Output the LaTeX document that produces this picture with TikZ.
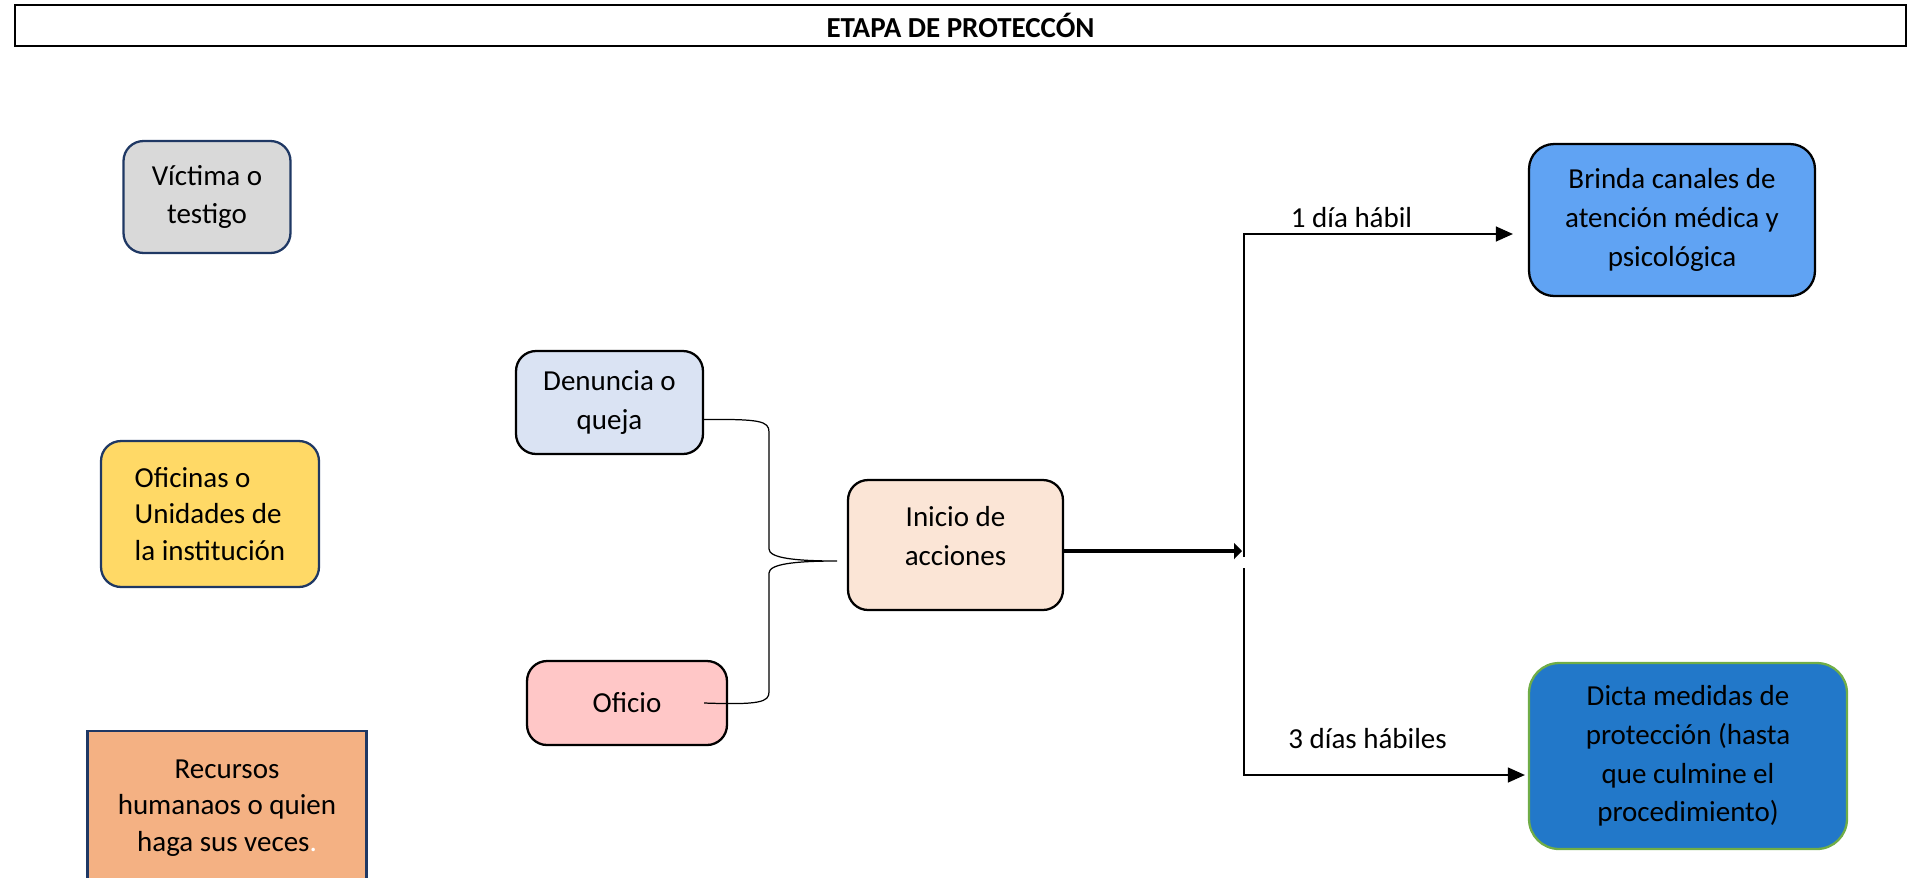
\documentclass[tikz,border=0pt]{standalone}
\usepackage{fontspec}
\setmainfont{Carlito}
\usepackage{xcolor}
\usetikzlibrary{positioning,calc,arrows.meta}

\definecolor{navyline}{HTML}{1F3864}
\definecolor{greyfill}{HTML}{D9D9D9}
\definecolor{goldfill}{HTML}{FFD966}
\definecolor{peachfill}{HTML}{F4B183}
\definecolor{paleblue}{HTML}{DAE3F3}
\definecolor{palepink}{HTML}{FFC7C7}
\definecolor{palepeach}{HTML}{FBE5D6}
\definecolor{skyfill}{HTML}{60A3F3}
\definecolor{deepblue}{HTML}{2278C9}
\definecolor{leafgreen}{HTML}{70AD47}

\begin{document}
\begin{tikzpicture}[x=0.02cm, y=-0.02cm, font=\fontsize{16.5}{22}\selectfont]
    \tikzstyle{box} = [rectangle, draw=black, line width=1.3pt, align=center, rounded corners=0.4cm]
    \tikzstyle{actor} = [box, draw=navyline]
    \tikzstyle{line} = [draw, line width=0.7pt, -{Triangle[length=0.34cm,width=0.3cm]}]
    \tikzstyle{bold line} = [draw, line width=2.8pt, -{Triangle[length=0.16cm,width=0.32cm]}]
    \tikzstyle{brace} = [draw, line width=0.7pt]

    \useasboundingbox (0,0) rectangle (1910,877);

    % header bar
    \node [draw, line width=1.1pt, minimum width=37.82cm, minimum height=0.82cm, font=\fontsize{16.5}{22}\selectfont\bfseries] (title) at (960.5,25.5) {ETAPA DE PROTECCÓN};

    % who takes part
    \node [actor, fill=greyfill, minimum width=3.34cm, minimum height=2.24cm] (victima) at (207,197) {Víctima o\\testigo};
    \node [actor, fill=goldfill, align=left, minimum width=4.36cm, minimum height=2.92cm, font=\fontsize{16.5}{21}\selectfont] (oficinas) at (210,514) {Oficinas o\\Unidades de\\la institución};
    \node [actor, fill=peachfill, sharp corners, anchor=north, minimum width=5.58cm, minimum height=3.08cm, font=\fontsize{16.5}{21}\selectfont] (recursos) at (227,730) {Recursos\\humanaos o quien\\haga sus veces\textcolor{white}{.}};

    % how it starts
    \node [box, fill=paleblue, minimum width=3.74cm, minimum height=2.06cm] (denuncia) at (609.5,402.5) {Denuncia o\\queja};
    \node [box, fill=palepink, minimum width=4.0cm, minimum height=1.68cm] (oficio) at (627,703) {Oficio};
    \node [box, fill=palepeach, minimum width=4.3cm, minimum height=2.6cm, text depth=0.36cm] (inicio) at (955.5,545) {Inicio de\\acciones};

    % what follows
    \node [box, fill=skyfill, rounded corners=0.5cm, minimum width=5.72cm, minimum height=3.04cm] (brinda) at (1672,220) {Brinda canales de\\atención médica y\\psicológica};
    \node [box, draw=leafgreen, fill=deepblue, rounded corners=0.6cm, minimum width=6.36cm, minimum height=3.72cm] (dicta) at (1688,756) {Dicta medidas de\\protección (hasta\\que culmine el\\procedimiento)};

    \coordinate (fork) at (1242,551);
    \coordinate (forkup) at (1244,557);
    \coordinate (forkdown) at (1244,568);

    % curly brace joining both ways in
    \draw [brace] ([yshift=-0.34cm]denuncia.east) .. controls (760,419) and (769,421) .. (769,432) -- (769,549)
        .. controls (769,558) and (795,561) .. (837,561)
        .. controls (795,561) and (769,564) .. (769,573) -- (769,692)
        .. controls (769,702) and (760,705) .. ([xshift=-0.48cm]oficio.east);

    \draw [bold line] (inicio.east |- fork) -- (fork);
    \draw [line] (forkup) |- node[pos=0.7, above=0pt] {1 día hábil} ([xshift=-0.3cm, yshift=-0.28cm]brinda.west);
    \draw [line] (forkdown) |- node[pos=0.72, above=0.4cm] {3 días hábiles} ([xshift=-0.06cm, yshift=-0.38cm]dicta.west);
\end{tikzpicture}
\end{document}
